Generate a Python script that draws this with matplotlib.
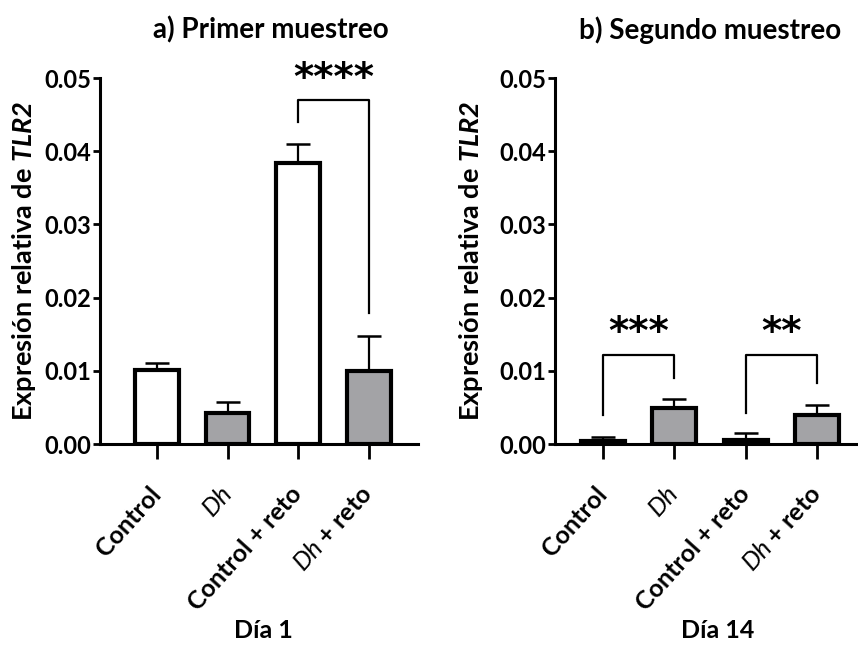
import numpy as np
import matplotlib as mpl
mpl.use("Agg")
import matplotlib.pyplot as plt

plt.rcParams['font.family'] = ['Lato', 'DejaVu Sans']
plt.rcParams['mathtext.fontset'] = 'custom'
plt.rcParams['mathtext.it'] = 'Lato:italic'
plt.rcParams['mathtext.bf'] = 'Lato:bold:italic'
plt.rcParams['mathtext.rm'] = 'Lato'

groups = ["Control", "$\\mathit{Dh}$", "Control + reto", "$\\mathit{Dh}$ + reto"]
barColors = ["white", "#a3a3a6", "white", "#a3a3a6"]

dia1Mean = [0.0101, 0.0042, 0.0384, 0.0100]
dia1Err = [0.0010, 0.0016, 0.0026, 0.0047]
dia14Mean = [0.0004, 0.0049, 0.0006, 0.0040]
dia14Err = [0.0006, 0.0013, 0.0009, 0.0013]

# brackets: (bar a, bar b, bracket y, left leg bottom, right leg bottom, stars, stars y)
dia1Sig = [(2, 3, 0.0470, 0.0440, 0.0179, "****", 0.0499)]
dia14Sig = [(0, 1, 0.0122, 0.0040, 0.0090, "***", 0.0152),
            (2, 3, 0.0122, 0.0042, 0.0083, "**", 0.0152)]

fig = plt.figure(figsize=(8.58, 6.45), dpi=100)
axA = fig.add_axes([100/858, 1-444/645, 318/858, 366/645])
axB = fig.add_axes([555/858, 1-444/645, 303/858, 366/645])

def drawPanel(ax, means, errs, sigs, xlim, ylabelPad):
  x = np.arange(len(means))
  ax.errorbar(x, means, yerr=[np.zeros(len(errs)), errs], fmt='none', ecolor='black',
              elinewidth=1.6, capsize=8.3, capthick=1.8, zorder=1)
  ax.bar(x, means, width=0.62, color=barColors, edgecolor='black', linewidth=3, zorder=2)
  ax.set_xlim(*xlim)
  ax.set_ylim(0, 0.05)
  ax.set_yticks([0, 0.01, 0.02, 0.03, 0.04, 0.05])
  ax.set_yticklabels(['0.00', '0.01', '0.02', '0.03', '0.04', '0.05'], fontsize=17, fontweight='bold')
  ax.set_xticks(x)
  ax.set_xticklabels(groups, rotation=48, ha='right', va='center', rotation_mode='anchor',
                     fontsize=18, fontweight='bold')
  ax.tick_params(axis='x', length=11, width=2, pad=22)
  ax.tick_params(axis='y', length=5, width=2, pad=1.5)
  for s in ['top', 'right']:
    ax.spines[s].set_visible(False)
  for s in ['left', 'bottom']:
    ax.spines[s].set_linewidth(2.2)
  ax.set_ylabel("Expresión relativa de $\\mathbf{TLR2}$", fontsize=19.5, fontweight='bold', labelpad=ylabelPad)
  for a, b, yb, ya, yc, stars, ys in sigs:
    ax.plot([a, a, b, b], [ya, yb, yb, yc], color='black', linewidth=1.6, clip_on=False, zorder=3)
    ax.text((a+b)/2, ys, stars, ha='center', va='center', fontsize=28, fontweight='bold',
            family='DejaVu Sans', clip_on=False)

drawPanel(axA, dia1Mean, dia1Err, dia1Sig, (-0.81, 3.7), 4.5)
drawPanel(axB, dia14Mean, dia14Err, dia14Sig, (-0.67, 3.57), 10)

fig.text(271/858, 1-30/645, "a) Primer muestreo", ha='center', va='center', fontsize=20, fontweight='bold')
fig.text(710/858, 1-30/645, "b) Segundo muestreo", ha='center', va='center', fontsize=20, fontweight='bold')
fig.text(263/858, 1-631/645, "Día 1", ha='center', va='center', fontsize=18, fontweight='bold')
fig.text(718/858, 1-631/645, "Día 14", ha='center', va='center', fontsize=18, fontweight='bold')

plt.savefig("out.png", dpi=100)
